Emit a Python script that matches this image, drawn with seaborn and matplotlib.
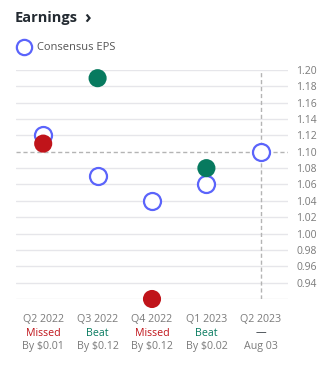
import matplotlib
matplotlib.use("Agg")
import matplotlib.pyplot as plt
import matplotlib.transforms as mtransforms
import seaborn as sns
import pandas as pd

quarters = ["Q2 2022", "Q3 2022", "Q4 2022", "Q1 2023", "Q2 2023"]
consensus = [1.12, 1.07, 1.04, 1.06, 1.10]
actual = [1.11, 1.19, 0.92, 1.08, None]
results = ["Missed", "Beat", "Missed", "Beat", "—"]
details = ["By $0.01", "By $0.12", "By $0.12", "By $0.02", "Aug 03"]
yticks = [0.94, 0.96, 0.98, 1.00, 1.02, 1.04, 1.06, 1.08, 1.10, 1.12, 1.14, 1.16, 1.18, 1.20]

sns.set_theme(style="white")
plt.rcParams["font.family"] = ["Open Sans", "DejaVu Sans"]

GREEN = "#077a5f"
RED = "#c0141a"
BLUE = "#5b64fb"
GRAY = "#7a7a7a"

fig = plt.figure(figsize=(3.26, 3.67), dpi=100)
ax = fig.add_axes([16/326, 1-299/367, (288-16)/326, (299-70)/367])

xs = list(range(len(quarters)))
df_c = pd.DataFrame({"x": xs, "y": consensus})
act_rows = [(i, a, r) for i, (a, r) in enumerate(zip(actual, results)) if a is not None]
df_a = pd.DataFrame(act_rows, columns=["x", "y", "res"])

# grid lines
for v in [0.92] + yticks:
    if abs(v - 1.10) < 1e-9:
        continue
    ax.axhline(v, color="#e6e6ea", lw=1.0, zorder=0)
ax.axhline(1.10, color="#b4b4b4", lw=1.0, ls=(0, (3, 2)), zorder=1)
ax.axvline(4, color="#b4b4b4", lw=1.0, ls=(0, (3, 2)), zorder=1)

sns.scatterplot(data=df_c, x="x", y="y", ax=ax, s=150, facecolor="white",
                edgecolor=BLUE, linewidth=1.6, zorder=3, clip_on=False, legend=False)
sns.scatterplot(data=df_a, x="x", y="y", hue="res", palette={"Missed": RED, "Beat": GREEN},
                ax=ax, s=170, edgecolor="none", linewidth=0, zorder=4, clip_on=False, legend=False)

ax.set_xlim(-0.5, 4.5)
ax.set_ylim(0.92, 1.20)
ax.set_xticks([])
ax.yaxis.tick_right()
ax.set_yticks(yticks)
ax.set_yticklabels([f"{v:.2f}" for v in yticks], color=GRAY, fontsize=7.5)
ax.tick_params(axis="y", length=0, pad=6)
ax.set_xlabel("")
ax.set_ylabel("")
for s in ax.spines.values():
    s.set_visible(False)

trans = mtransforms.blended_transform_factory(ax.transData, fig.transFigure)
for i, q in enumerate(quarters):
    ax.text(i, 1 - 320/367, q, transform=trans, ha="center", va="center", fontsize=7.7, color=GRAY)
    rc = RED if results[i] == "Missed" else (GREEN if results[i] == "Beat" else "#232a31")
    ax.text(i, 1 - 333/367, results[i], transform=trans, ha="center", va="center", fontsize=7.7,
            color=rc, fontweight="medium")
    ax.text(i, 1 - 347/367, details[i], transform=trans, ha="center", va="center", fontsize=7.7, color=GRAY)

fig.text(15/326, 1 - 18/367, "Earnings", fontsize=10.5, fontweight="bold", color="#232a31", va="center", ha="left")
fig.text(84/326, 1 - 18/367, "›", fontsize=13, fontweight="bold", color="#232a31", va="center", ha="left")

# legend
fig.lines.append(plt.Line2D([24/326], [1 - 47/367], marker="o", markersize=11, markerfacecolor="white",
                            markeredgecolor=BLUE, markeredgewidth=1.6, transform=fig.transFigure, ls="none"))
fig.text(37/326, 1 - 47/367, "Consensus EPS", fontsize=8, color="#555", va="center", ha="left")

fig.savefig("out.png", dpi=100)
